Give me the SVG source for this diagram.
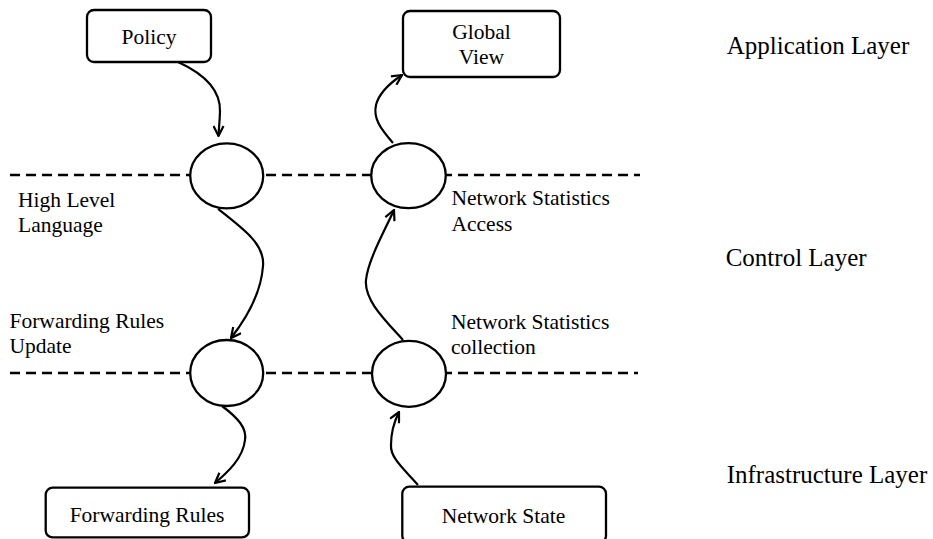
<svg xmlns="http://www.w3.org/2000/svg" width="933" height="539" viewBox="0 0 933 539">
<style>
.box{fill:#fff;stroke:#000;stroke-width:2.3}
.node{fill:#fff;stroke:#000;stroke-width:2.3}
.dash{stroke:#000;stroke-width:2.3;stroke-dasharray:10 6;fill:none}
.conn{fill:none;stroke:#000;stroke-width:2.2}
.lbl{font-size:21.5px;fill:#000}
.layer{font-size:25px;fill:#000}
</style>
<defs>
<marker id="arr" viewBox="0 0 12 12" refX="11" refY="6" markerWidth="12" markerHeight="12" markerUnits="userSpaceOnUse" orient="auto">
<path d="M1,1 L11,6 L1,11" fill="none" stroke="#000" stroke-width="2.2"/>
</marker>
</defs>
<g id="layer-lines">
<line class="dash" x1="10" y1="175" x2="640" y2="175"/>
<line class="dash" x1="10" y1="373" x2="638" y2="373"/>
</g>
<g id="connectors">
<path class="conn" marker-end="url(#arr)" d="M178,62 C200,72 221,88 220,112 C219.5,125 218.5,132 218.5,136"/>
<path class="conn" marker-end="url(#arr)" d="M218,209 C245,230 265,245 263,266 C261,295 245,320 231,338"/>
<path class="conn" marker-end="url(#arr)" d="M222,406 C238,418 247,428 245,440 C243,458 228,472 215,483"/>
<path class="conn" marker-end="url(#arr)" d="M418,485 C405,470 390,458 391,445 C391,432 395,420 399,412"/>
<path class="conn" marker-end="url(#arr)" d="M403,340 C385,320 364,300 366,280 C368,260 385,230 394,210"/>
<path class="conn" marker-end="url(#arr)" d="M393,143 C380,128 373,118 376,105 C379,93 390,83 402,75"/>
</g>
<g font-family="'Liberation Serif', 'Times New Roman', serif">
<g id="policy">
<rect class="box" x="87" y="10" width="124" height="52" rx="7"/>
<text class="lbl" x="149" y="44" text-anchor="middle">Policy</text>
</g>
<g id="global-view">
<rect class="box" x="403" y="11" width="157" height="66" rx="7"/>
<text class="lbl" x="481.5" y="39" text-anchor="middle">Global</text>
<text class="lbl" x="481.5" y="64" text-anchor="middle">View</text>
</g>
<g id="high-level-language">
<ellipse class="node" cx="226.7" cy="175.8" rx="36.5" ry="32.5"/>
<text class="lbl" x="18" y="207">High Level</text>
<text class="lbl" x="18" y="232">Language</text>
</g>
<g id="network-statistics-access">
<ellipse class="node" cx="408.5" cy="175.6" rx="37.3" ry="32.5"/>
<text class="lbl" x="451.5" y="204.5">Network Statistics</text>
<text class="lbl" x="451.5" y="231">Access</text>
</g>
<g id="forwarding-rules-update">
<ellipse class="node" cx="226.7" cy="373" rx="36.5" ry="33"/>
<text class="lbl" x="9.5" y="327.5">Forwarding Rules</text>
<text class="lbl" x="9.5" y="352.5">Update</text>
</g>
<g id="network-statistics-collection">
<ellipse class="node" cx="409" cy="373.8" rx="37" ry="33"/>
<text class="lbl" x="451" y="328.5">Network Statistics</text>
<text class="lbl" x="451" y="354">collection</text>
</g>
<g id="forwarding-rules">
<rect class="box" x="45.7" y="487.7" width="203.3" height="49.7" rx="7"/>
<text class="lbl" x="147" y="521.7" text-anchor="middle">Forwarding Rules</text>
</g>
<g id="network-state">
<rect class="box" x="402.3" y="486.7" width="203.7" height="56" rx="7"/>
<text class="lbl" x="503.5" y="522.7" text-anchor="middle">Network State</text>
</g>
<g id="layers">
<text class="layer" x="726.7" y="54">Application Layer</text>
<text class="layer" x="725.7" y="266">Control Layer</text>
<text class="layer" x="726.7" y="483.3">Infrastructure Layer</text>
</g>
</g>
</svg>
